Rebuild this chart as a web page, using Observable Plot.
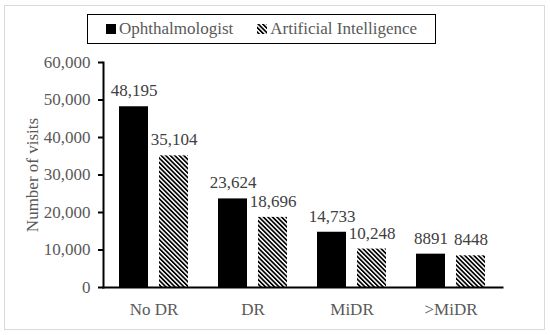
<!DOCTYPE html>
<html><head><meta charset="utf-8">
<script src="https://cdn.jsdelivr.net/npm/d3@7"></script>
<script src="https://cdn.jsdelivr.net/npm/@observablehq/plot@0.6"></script>
<style>
body{margin:0;background:#fff}
#wrap{position:relative;width:550px;height:335px;font-family:'Liberation Serif',serif}
#frame{position:absolute;left:4px;top:5px;width:541px;height:325px;border:1px solid #d9d9d9;box-sizing:border-box}
#chart{position:absolute;left:0;top:0}
#legend{position:absolute;left:87px;top:14px;width:349px;height:30px;border:1.5px solid #000;box-sizing:border-box;display:flex;align-items:center;justify-content:center;gap:24px;font-family:'Liberation Serif',serif;font-size:17px;color:#595959;background:#fff}
#legend span.item{display:flex;align-items:center}
</style></head>
<body>
<div id="wrap"><div id="frame"></div><div id="chart"></div><div id="legend"></div></div>
<script>
const categories = ["No DR", "DR", "MiDR", ">MiDR"];
const series = ["Ophthalmologist", "Artificial Intelligence"];
const ophthalmologist = [48195, 23624, 14733, 8891];
const artificialIntelligence = [35104, 18696, 10248, 8448];
const ophLabels = ["48,195", "23,624", "14,733", "8891"];
const aiLabels = ["35,104", "18,696", "10,248", "8448"];
const yTicks = [0, 10000, 20000, 30000, 40000, 50000, 60000];

const ophData = categories.map((c, i) => ({cat: c, value: ophthalmologist[i], label: ophLabels[i]}));
const aiData = categories.map((c, i) => ({cat: c, value: artificialIntelligence[i], label: aiLabels[i]}));

const plot = Plot.plot({
  width: 550, height: 335,
  marginLeft: 103, marginRight: 48, marginTop: 62, marginBottom: 48,
  style: {fontFamily: "'Liberation Serif', serif", fontSize: "17px", color: "#595959", background: "transparent"},
  x: {domain: categories, paddingInner: 0.3, paddingOuter: 0.15, label: null},
  y: {domain: [0, 60000]},
  marks: [
    Plot.barY(ophData, {x: "cat", y: "value", fill: "black", insetRight: 40}),
    Plot.barY(aiData, {x: "cat", y: "value", fill: "url(#hatch)", insetLeft: 40}),
    Plot.text(ophData, {x: "cat", y: "value", text: "label", dx: -20, dy: -16, fill: "#404040", fontSize: 17}),
    Plot.text(aiData, {x: "cat", y: "value", text: "label", dx: 20, dy: -16, fill: "#404040", fontSize: 17}),
    Plot.axisY({ticks: yTicks, tickFormat: d3.format(","), tickSize: 5, tickPadding: 8, stroke: "black", strokeWidth: 2, fontSize: 17,
      label: "Number of visits", labelAnchor: "center", labelArrow: "none", labelOffset: 78}),
    Plot.axisX({tickSize: 0, tickPadding: 15, fontSize: 17, label: null}),
    Plot.frame({anchor: "bottom", stroke: "black", strokeWidth: 2}),
    Plot.frame({anchor: "left", stroke: "black", strokeWidth: 2})
  ]
});

const svg = d3.select(plot);
const defs = svg.insert("defs", ":first-child");
const pat = defs.append("pattern").attr("id", "hatch").attr("patternUnits", "userSpaceOnUse")
  .attr("width", 3.2).attr("height", 3.2).attr("patternTransform", "rotate(-45)");
pat.append("rect").attr("width", 3.2).attr("height", 3.2).attr("fill", "white");
pat.append("rect").attr("width", 1.7).attr("height", 3.2).attr("fill", "black");
document.getElementById("chart").appendChild(plot);

const legend = d3.select("#legend");
series.forEach((s, i) => {
  const item = legend.append("span").attr("class", "item");
  const sw = item.append("svg").attr("width", 10).attr("height", 10).style("margin-right", "3px");
  if (i === 0) sw.append("rect").attr("width", 10).attr("height", 10).attr("fill", "black");
  else {
    const d = sw.append("defs").append("pattern").attr("id", "hatchL").attr("patternUnits", "userSpaceOnUse")
      .attr("width", 3.2).attr("height", 3.2).attr("patternTransform", "rotate(-45)");
    d.append("rect").attr("width", 3.2).attr("height", 3.2).attr("fill", "white");
    d.append("rect").attr("width", 1.7).attr("height", 3.2).attr("fill", "black");
    sw.append("rect").attr("width", 10).attr("height", 10).attr("fill", "url(#hatchL)");
  }
  item.append("span").text(s);
});
</script>
</body></html>
